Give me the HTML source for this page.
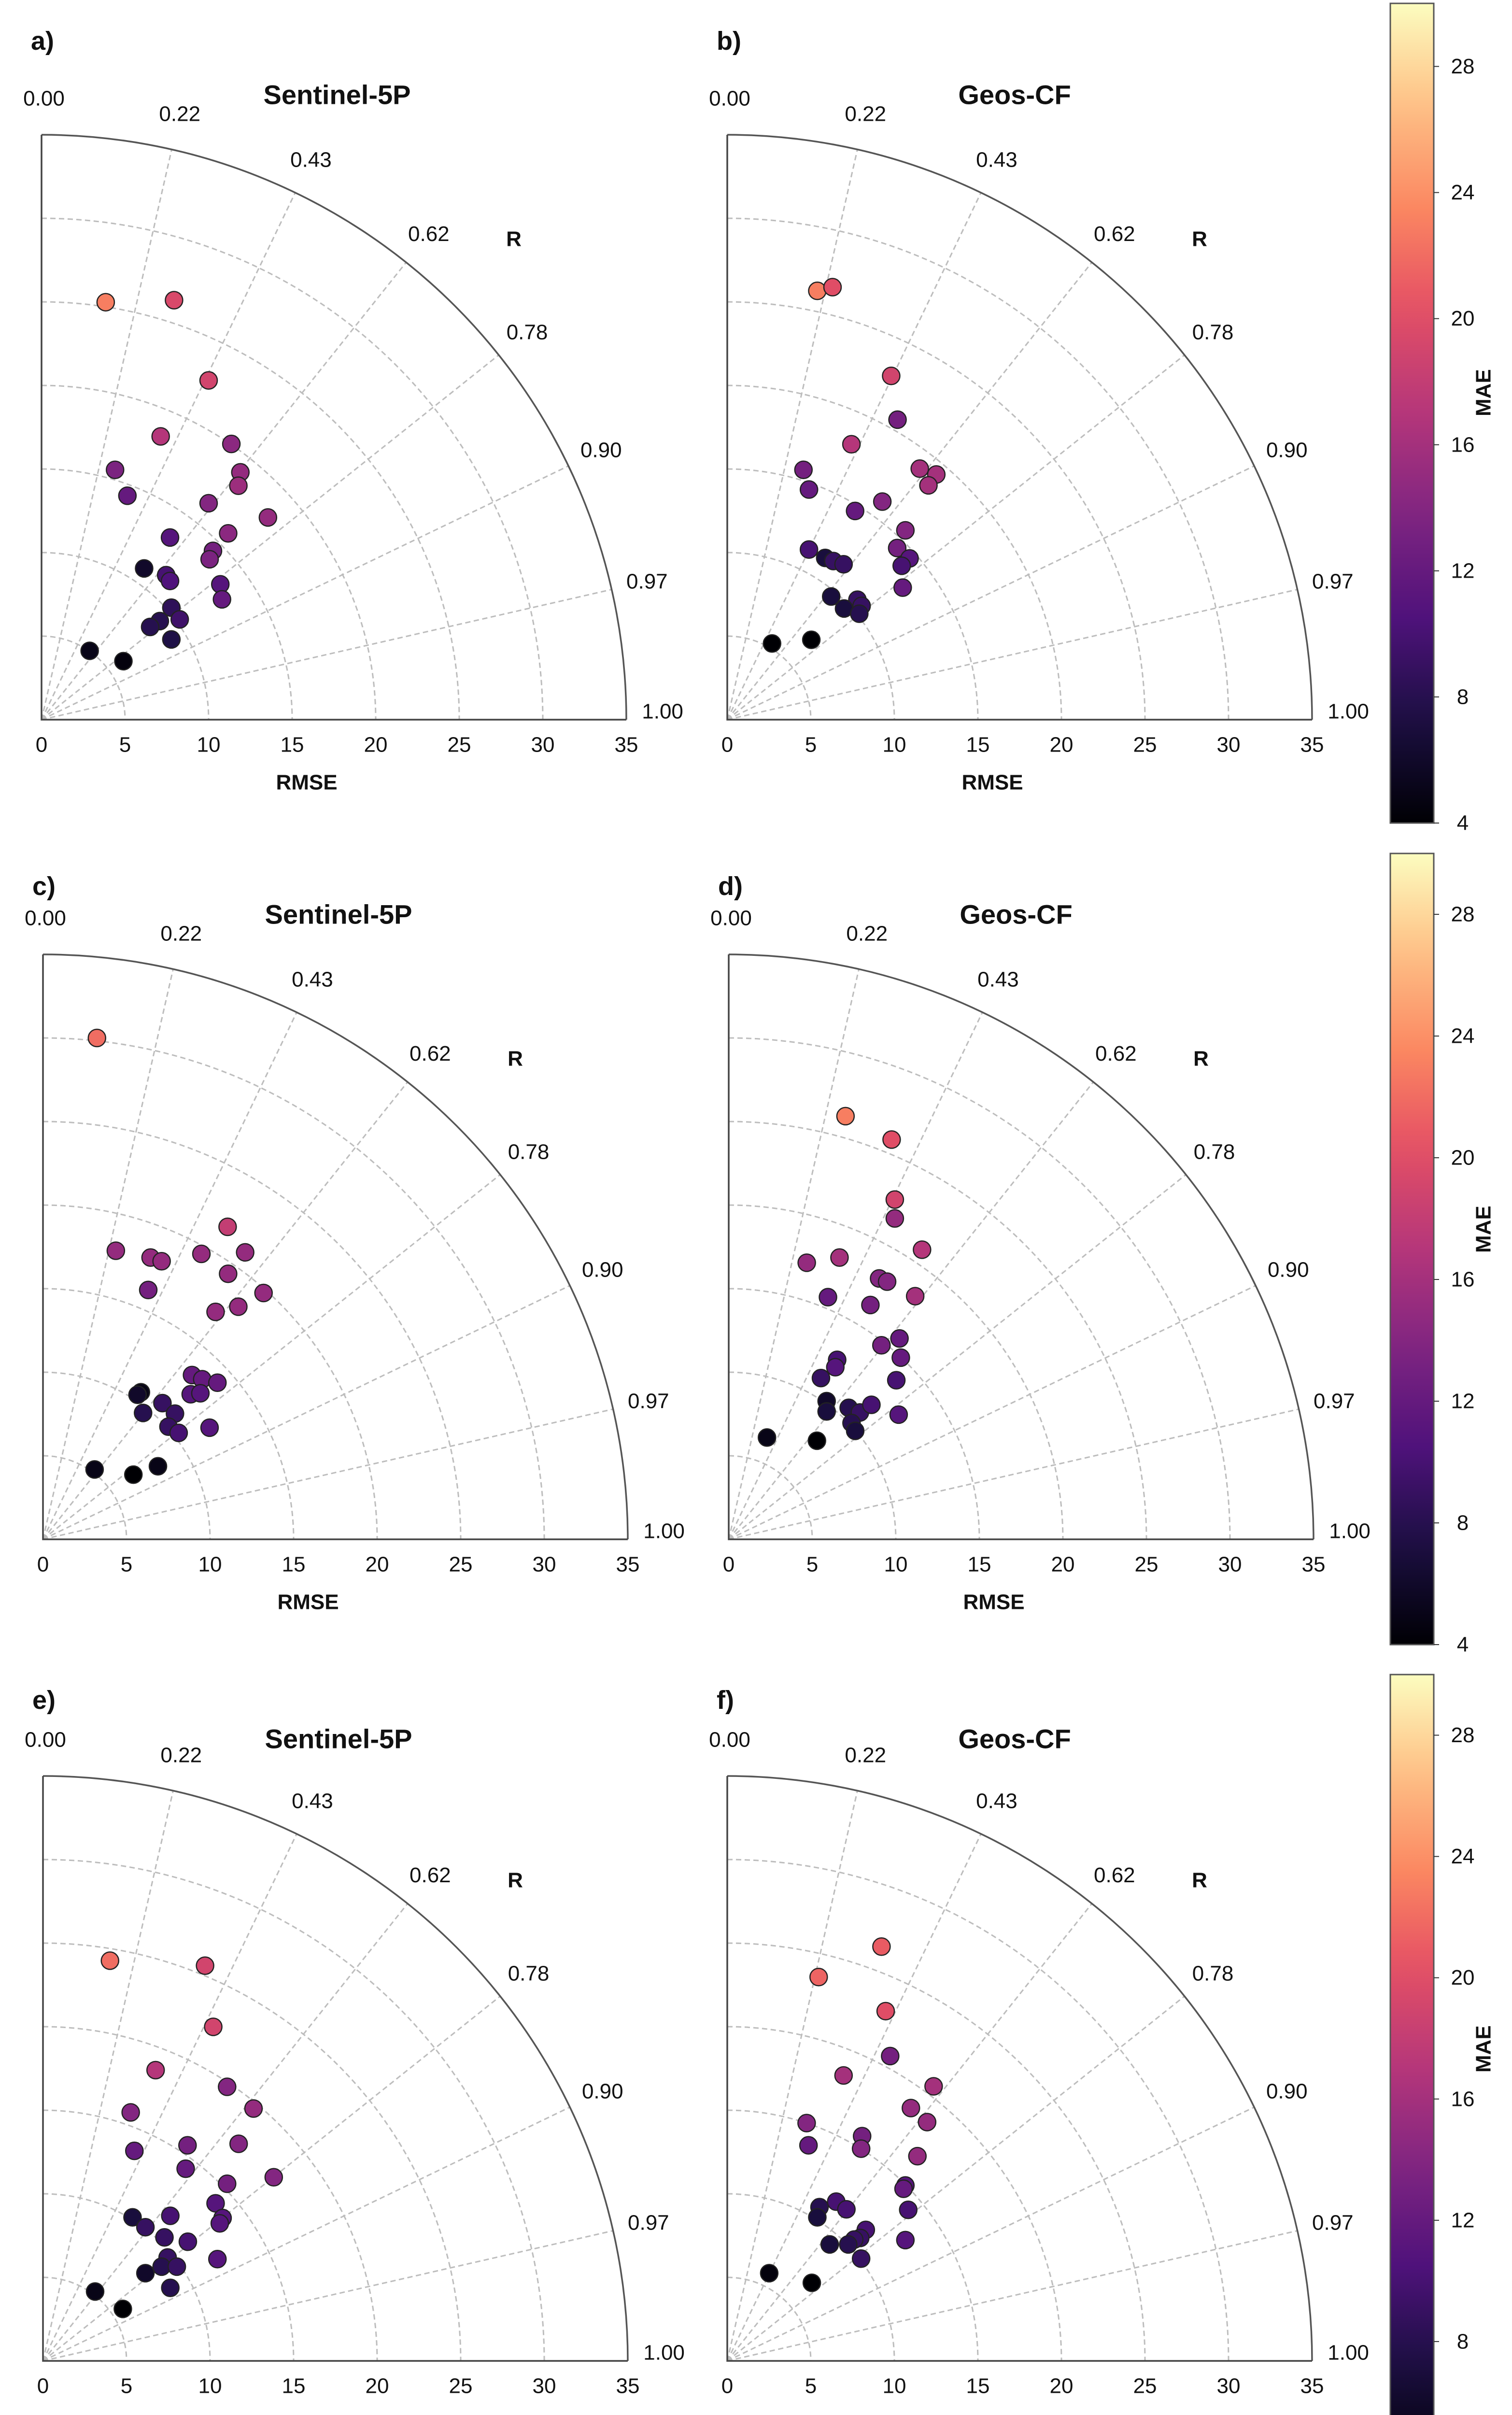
<!DOCTYPE html>
<html><head><meta charset="utf-8"><style>
html,body{margin:0;padding:0;background:#fff;width:3131px;height:5166px;overflow:hidden}
svg{display:block;font-family:"Liberation Sans",Arial,sans-serif}
</style></head><body>
<svg id="fig" width="3131" height="5166" viewBox="0 0 3131 5166" xmlns="http://www.w3.org/2000/svg"></svg>
<script>
// ---- data (x = sd*R, y = sd*sqrt(1-R^2), in RMSE units) ----
const corrTicks = ["0.00","0.22","0.43","0.62","0.78","0.90","0.97","1.00"];
const rmseTicks = [0,5,10,15,20,25,30,35];
const maeTicks = [4,8,12,16,20,24,28];
const panelTitles = ["Sentinel-5P","Geos-CF","Sentinel-5P","Geos-CF","Sentinel-5P","Geos-CF"];
const panelLetters = ["a)","b)","c)","d)","e)","f)"];

const aX=[3.84,7.93,10.0,7.13,11.36,4.4,11.9,11.78,5.14,10.0,13.55,7.69,11.17,10.26,10.06,6.14,7.46,7.69,10.7,10.8,7.77,8.27,7.08,6.5,7.77,2.88,4.9];
const aY=[24.98,25.1,20.3,16.95,16.5,14.95,14.8,14.0,13.4,12.95,12.1,10.9,11.15,10.1,9.6,9.05,8.65,8.3,8.1,7.2,6.7,6.0,5.9,5.55,4.8,4.12,3.5];
const aM=[23,19.5,19,17,14.5,13.5,15,15.5,12,14,15,11,14.5,13,13.5,6,10,10.5,11,12,8.5,9.5,8,8,7.5,5,4.5];

const bX=[5.39,6.30,9.81,10.19,7.43,4.56,11.52,12.51,12.04,4.89,9.28,7.65,10.66,10.17,4.89,5.86,6.35,6.96,10.91,10.44,10.50,6.22,7.79,6.99,8.04,7.90,2.68,5.03];
const bY=[25.66,25.88,20.57,17.95,16.48,14.95,15.02,14.67,14.02,13.77,13.05,12.49,11.33,10.27,10.18,9.68,9.49,9.30,9.65,9.21,7.90,7.37,7.18,6.65,6.81,6.34,4.56,4.78];
const bM=[23,20,19,13,17,13,16,16,16,12,14,12,14,13,10,7,9,9,11,10,12,7,9,7,9,8,4,4];

const cX=[3.23,11.05,4.36,6.44,7.10,9.48,12.10,11.08,6.30,13.20,10.33,11.69,8.92,9.53,10.44,8.84,9.42,5.86,5.66,7.15,5.99,7.90,7.51,8.12,9.97,3.09,5.41,6.88];
const cY=[30.0,18.70,17.27,16.86,16.64,17.08,17.17,15.89,14.92,14.74,13.61,13.92,9.83,9.58,9.37,8.68,8.74,8.80,8.65,8.15,7.56,7.52,6.74,6.37,6.68,4.18,3.87,4.37];
const cM=[22,18,15,15,15,15,15,15,13,15,15,15,12,12,12,11,11,5,6,9,8,9,9,10,11,5,4,5];

const dX=[6.99,9.75,9.94,9.94,4.67,6.63,11.57,9.0,9.48,5.94,8.48,11.16,9.14,10.22,10.30,6.49,6.38,5.52,10.03,5.86,5.86,7.18,7.85,8.54,10.17,7.35,7.57,2.29,5.28];
const dY=[25.32,23.92,20.33,19.2,16.55,16.86,17.33,15.61,15.42,14.49,14.02,14.55,11.61,12.02,10.87,10.74,10.30,9.65,9.52,8.27,7.65,7.87,7.59,8.05,7.46,6.96,6.49,6.09,5.90];
const dM=[23,20,19,15,15,16,17,14,14,12,13,16,13,12,12,10,11,9,10,6,7,8,9,10,11,8,7,5,4];

const eX=[4.01,9.70,10.19,6.74,11.02,5.25,12.60,5.47,8.65,11.71,8.54,11.02,13.81,10.33,10.75,10.58,5.36,6.13,7.62,7.27,8.67,7.46,7.10,8.01,10.44,6.13,7.62,3.12,4.78];
const eY=[23.95,23.65,19.99,17.40,16.40,14.87,15.10,12.57,12.90,12.99,11.50,10.60,10.99,9.43,8.55,8.23,8.59,8.00,8.68,7.39,7.13,6.19,5.64,5.64,6.09,5.25,4.37,4.15,3.11];
const eM=[22,19,19,17,14,14,15,12,13,14,12,13,14,11,11,11,7,9,10,9,10,9,8,9,11,6,8,5,4];

const fX=[9.23,5.47,9.48,9.75,6.96,12.35,10.99,11.96,4.75,8.07,8.01,4.86,11.38,10.66,10.55,6.52,7.13,5.52,5.39,10.83,8.29,7.96,7.60,7.24,6.13,10.66,8.01,2.51,5.06];
const fY=[24.79,22.97,20.93,18.24,17.08,16.43,15.13,14.29,14.23,13.45,12.70,12.90,12.25,10.50,10.30,9.53,9.07,9.20,8.59,9.04,7.84,7.36,7.26,6.97,6.97,7.23,6.12,5.25,4.67];
const fM=[21,21.5,20,13,16,16,15,15,14,13,14,12,15,11,12,10,10,8,7,10,10,9,9,8,7,11,9,4.5,4];

const seriesX=[aX,bX,cX,dX,eX,fX];
const seriesY=[aY,bY,cY,dY,eY,fY];
const seriesM=[aM,bM,cM,dM,eM,fM];

// ---- layout ----
const NS="http://www.w3.org/2000/svg";
const svg=document.getElementById('fig');
const RAD=1211, RMAX=35, MAEMIN=4, MAEMAX=30;
const origins=[[86,1490],[1506,1490],[89,3187],[1509,3187],[89,4888],[1506,4888]];
const cbars=[[7,1704],[1767,3405],[3467,5099]];
const CBX=2879, CBW=90;
const TICKFS=44, TITLEFS=56, LETTERFS=54;

function el(tag,attrs,parent){const e=document.createElementNS(NS,tag);for(const k in attrs)e.setAttribute(k,attrs[k]);(parent||svg).appendChild(e);return e;}
function txt(s,x,y,size,weight,anchor,parent){const t=el('text',{x:x,y:y,'font-size':size,'font-weight':weight||'normal','text-anchor':anchor||'middle','dominant-baseline':'central',fill:'#111'},parent);t.textContent=s;return t;}

const magmaStops=[[0,[0,0,4]],[0.13,[28,16,68]],[0.25,[79,18,123]],[0.38,[129,37,129]],[0.5,[181,54,122]],[0.63,[229,80,100]],[0.75,[251,135,97]],[0.88,[254,194,135]],[1,[252,253,191]]];
function magma(t){t=Math.max(0,Math.min(1,t));for(let i=1;i<magmaStops.length;i++){const[a,ca]=magmaStops[i-1],[b,cb]=magmaStops[i];if(t<=b){const f=(t-a)/(b-a);return 'rgb('+ca.map((v,j)=>Math.round(v+(cb[j]-v)*f)).join(',')+')';}}return 'rgb(252,253,191)';}
function colorScale(v){return magma((v-MAEMIN)/(MAEMAX-MAEMIN));}

const angles=[90,77.14,64.29,51.43,38.57,25.71,12.86,0];

for(let p=0;p<6;p++){
  const [ox,oy]=origins[p];
  const sx=v=>ox+v/RMAX*RAD;
  const sy=v=>oy-v/RMAX*RAD;
  const g=el('g',{});
  
  
  for(let r=5;r<35;r+=5){
    const rr=r/RMAX*RAD;
    const a=el('path',{d:`M${ox} ${oy-rr} A${rr} ${rr} 0 0 1 ${ox+rr} ${oy}`,fill:'none',stroke:'#bdbdbd','stroke-width':3,'stroke-dasharray':'11 7'},g);
    
    
  }
  for(let i=1;i<angles.length-1;i++){
    const th=angles[i]*Math.PI/180;
    const l=el('line',{x1:ox,y1:oy,x2:ox+RAD*Math.cos(th),y2:oy-RAD*Math.sin(th),stroke:'#bdbdbd','stroke-width':3,'stroke-dasharray':'11 7'},g);
    
    
  }
  const oa=el('path',{d:`M${ox} ${oy-RAD} A${RAD} ${RAD} 0 0 1 ${ox+RAD} ${oy}`,fill:'none',stroke:'#555','stroke-width':3.5},g);
  
  
  const ax=el('path',{d:`M${ox} ${oy-RAD} L${ox} ${oy} L${ox+RAD} ${oy}`,fill:'none',stroke:'#444','stroke-width':3.5},g);
  
  
  for(let i=0;i<corrTicks.length;i++){
    const th=angles[i]*Math.PI/180, rl=RAD*1.062;
    const t=txt(corrTicks[i],ox+rl*Math.cos(th)+(i===0?5:0),oy-rl*Math.sin(th)+(i===7?-17:0),TICKFS,'normal','middle',g);
    
    
  }
  const rl=txt('R',ox+978,oy-995,TICKFS,'bold','middle',g);
  
  
  rmseTicks.forEach(v=>{
    const t=txt(String(v),sx(v),oy+52,TICKFS,'normal','middle',g);
    
    
  });
  const xt=txt('RMSE',ox+549,oy+130,TICKFS,'bold','middle',g);
  
  
  const row=Math.floor(p/2);
  const tt=txt(panelTitles[p],ox+(p%2?595:612),oy+(row===2?-1288:-1294),TITLEFS,'bold','middle',g);
  
  
  const lt=txt(panelLetters[p],ox-22,oy+(row===0?-1405:(row===1?-1352:-1368)),LETTERFS,'bold','start',g);
  
  
  const xs=seriesX[p],ys=seriesY[p],ms=seriesM[p];
  for(let i=0;i<xs.length;i++){
    const c=el('circle',{cx:sx(xs[i]),cy:sy(ys[i]),r:18,fill:colorScale(ms[i]),stroke:'#222','stroke-width':2.5},g);
    
    
  }
}

const defs=el('defs',{});
const grad=el('linearGradient',{id:'magmaGrad',x1:0,y1:1,x2:0,y2:0},defs);
for(let i=0;i<=20;i++){el('stop',{offset:i/20,'stop-color':magma(i/20)},grad);}
cbars.forEach(([top,bot],k)=>{
  const g=el('g',{});
  
  
  const r=el('rect',{x:CBX,y:top,width:CBW,height:bot-top,fill:'url(#magmaGrad)',stroke:'#555','stroke-width':3},g);
  
  
  const cy=v=>bot-(v-MAEMIN)/(MAEMAX-MAEMIN)*(bot-top);
  maeTicks.forEach(v=>{
    el('line',{x1:CBX+CBW,x2:CBX+CBW+11,y1:cy(v),y2:cy(v),stroke:'#333','stroke-width':2},g);
    const t=txt(String(v),CBX+CBW+60,cy(v),TICKFS,'normal','middle',g);
    
    
  });
  const m=txt('MAE',0,0,TICKFS,'bold','middle',g);
  m.setAttribute('transform',`translate(3072 ${top+(bot-top)*0.475}) rotate(-90)`);
  
  
});
</script>
</body></html>
